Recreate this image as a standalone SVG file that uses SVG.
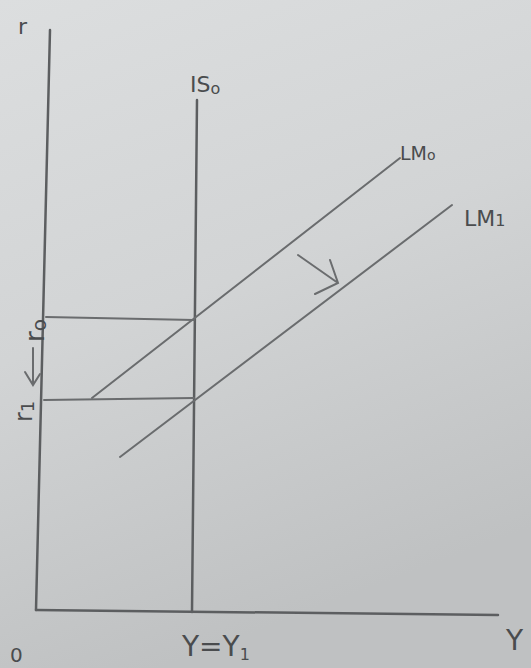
<svg xmlns="http://www.w3.org/2000/svg" width="531" height="668" viewBox="0 0 531 668">
<defs>
<linearGradient id="bg" x1="0" y1="0" x2="0.3" y2="1">
<stop offset="0" stop-color="#dcdedf"/>
<stop offset="0.5" stop-color="#d2d4d5"/>
<stop offset="1" stop-color="#bfc1c2"/>
</linearGradient>
<style>
.ln{stroke:#6a6c6e;stroke-width:2;fill:none;stroke-linecap:round}
.ax{stroke:#5c5e60;stroke-width:2.5;fill:none;stroke-linecap:round}
.t{font-family:"DejaVu Sans","Liberation Sans",sans-serif;fill:#4a4c4e}
</style>
</defs>
<rect width="531" height="668" fill="url(#bg)"/>
<g id="connectors">
<line id="y-axis" class="ax" x1="50" y1="30" x2="36" y2="610"/>
<line id="x-axis" class="ax" x1="36" y1="610" x2="498" y2="615"/>
<line id="is0" class="ax" x1="197" y1="100" x2="192" y2="612"/>
<line id="lm0" class="ln" x1="92" y1="398" x2="400" y2="158"/>
<line id="lm1" class="ln" x1="120" y1="457" x2="452" y2="205"/>
<line id="r0-line" class="ln" x1="46" y1="317" x2="194" y2="320"/>
<line id="r1-line" class="ln" x1="44" y1="400" x2="194" y2="398"/>
<path id="shift-arrow" class="ln" d="M298,255 L338,283 M330,260 L338,283 L315,294"/>
<path id="r-arrow" class="ln" d="M33,348 L33,385 M25,372 L33,385 L40,374"/>
</g>
<g id="labels">
<text class="t" x="18" y="34" font-size="22">r</text>
<text class="t" x="190" y="92" font-size="22">IS<tspan font-size="16" dy="2">o</tspan></text>
<text class="t" x="400" y="160" font-size="19">LM<tspan font-size="14">o</tspan></text>
<text class="t" x="464" y="226" font-size="22">LM<tspan font-size="16">1</tspan></text>
<text class="t" x="182" y="656" font-size="28">Y=Y<tspan font-size="16" dy="4">1</tspan></text>
<text class="t" x="506" y="650" font-size="28">Y</text>
<text class="t" x="10" y="662" font-size="20">0</text>
<text class="t" transform="translate(44,342) rotate(-90)" font-size="26">r<tspan font-size="20" dy="2">o</tspan></text>
<text class="t" transform="translate(32,422) rotate(-90)" font-size="24">r<tspan font-size="18" dy="2">1</tspan></text>
</g>
</svg>
